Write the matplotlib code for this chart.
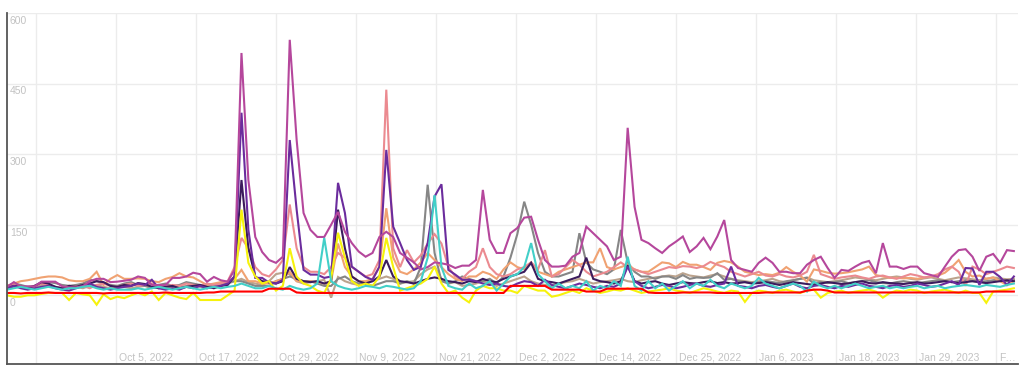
import matplotlib
matplotlib.use("Agg")
import matplotlib.pyplot as plt
import matplotlib.transforms as mtransforms
import pandas as pd

# daily values, Sep 19 2022 .. Feb 12 2023 (147 days)
start = "2022-09-19"

magenta = [
    18, 28, 19, 19, 19, 29, 29, 29, 19, 17,
    17, 19, 30, 35, 35, 28, 29, 31, 33, 40,
    37, 22, 22, 22, 37, 37, 40, 48, 45, 29,
    39, 32, 29, 54, 515, 245, 124, 92, 75, 69,
    82, 543, 330, 175, 139, 124, 124, 150, 177, 135,
    111, 93, 82, 90, 124, 135, 124, 90, 80, 70,
    55, 60, 70, 68, 65, 58, 63, 63, 75, 224,
    118, 90, 90, 132, 143, 165, 167, 118, 75, 61,
    61, 63, 82, 90, 146, 132, 118, 104, 75, 82,
    356, 188, 118, 111, 100, 90, 104, 114, 125, 92,
    104, 122, 98, 125, 160, 75, 58, 54, 50, 69,
    80, 69, 50, 50, 47, 47, 65, 75, 82, 58,
    37, 54, 52, 61, 69, 73, 47, 111, 61, 61,
    56, 61, 61, 47, 43, 39, 61, 82, 96, 98,
    82, 52, 82, 88, 69, 96, 94,
]
purple = [
    15, 20, 15, 12, 15, 18, 20, 15, 12, 10,
    15, 20, 25, 18, 15, 12, 15, 18, 20, 25,
    22, 33, 15, 12, 15, 12, 18, 15, 20, 15,
    18, 20, 25, 40, 388, 139, 37, 37, 27, 25,
    33, 330, 182, 54, 44, 44, 37, 40, 239, 175,
    61, 50, 39, 33, 61, 309, 146, 111, 75, 54,
    61, 111, 210, 236, 54, 44, 33, 33, 30, 25,
    22, 25, 20, 18, 25, 30, 28, 20, 33, 22,
    18, 15, 20, 25, 22, 18, 15, 20, 18, 25,
    61, 30, 20, 15, 18, 22, 20, 15, 18, 22,
    25, 20, 18, 22, 25, 61, 20, 18, 15, 20,
    22, 18, 15, 20, 25, 18, 15, 20, 22, 18,
    15, 20, 18, 22, 25, 20, 18, 15, 20, 22,
    18, 20, 25, 22, 18, 20, 25, 30, 22, 58,
    57, 22, 50, 50, 39, 22, 40,
]
indigo = [
    15, 20, 18, 15, 20, 28, 25, 18, 15, 20,
    18, 22, 25, 30, 28, 20, 18, 22, 20, 26,
    24, 18, 15, 18, 20, 15, 18, 20, 22, 18,
    15, 20, 22, 40, 245, 100, 40, 30, 28, 25,
    30, 60, 35, 30, 28, 30, 25, 30, 182, 100,
    40, 30, 25, 30, 40, 75, 40, 30, 28, 25,
    30, 35, 38, 35, 30, 28, 25, 30, 28, 35,
    30, 28, 35, 40, 45, 50, 69, 35, 30, 28,
    25, 30, 35, 40, 80, 35, 30, 28, 25, 30,
    64, 30, 25, 28, 30, 25, 22, 25, 28, 26,
    25, 28, 30, 26, 28, 25, 26, 28, 25, 26,
    28, 25, 22, 25, 28, 26, 24, 22, 25, 28,
    26, 24, 25, 28, 30, 26, 25, 28, 26, 25,
    24, 26, 28, 25, 26, 28, 30, 28, 26, 28,
    30, 28, 26, 28, 30, 32, 30,
]
salmon = [
    20, 22, 18, 15, 20, 25, 22, 18, 15, 20,
    18, 20, 15, 22, 25, 20, 18, 22, 25, 20,
    22, 25, 20, 18, 22, 20, 25, 22, 20, 25,
    22, 25, 30, 60, 122, 100, 60, 45, 40, 55,
    75, 193, 100, 60, 50, 50, 45, 60, 90, 80,
    60, 50, 40, 45, 75, 437, 100, 60, 96, 70,
    85, 110, 130, 110, 60, 40, 35, 50, 60, 100,
    60, 45, 40, 45, 55, 60, 70, 55, 96, 40,
    45, 60, 75, 65, 50, 40, 45, 50, 60, 70,
    60, 55, 50, 45, 50, 55, 60, 58, 62, 61,
    58, 62, 71, 65, 60, 50, 45, 40, 45, 50,
    42, 40, 45, 40, 38, 42, 50, 86, 45, 40,
    35, 38, 40, 42, 38, 35, 40, 42, 38, 35,
    40, 45, 42, 38, 40, 45, 55, 61, 50, 20,
    61, 55, 45, 50, 55, 61, 58,
]
orange = [
    20, 25, 30, 32, 35, 38, 40, 40, 38, 32,
    30, 30, 35, 50, 22, 35, 43, 35, 35, 36,
    35, 30, 28, 35, 39, 47, 40, 38, 30, 22,
    25, 28, 29, 35, 54, 30, 30, 25, 25, 30,
    35, 50, 30, 28, 30, 28, 25, 30, 110, 60,
    40, 30, 30, 35, 60, 185, 80, 50, 45, 55,
    70, 90, 75, 60, 45, 35, 30, 40, 40, 50,
    45, 35, 55, 70, 60, 55, 70, 50, 45, 40,
    50, 55, 60, 65, 70, 70, 100, 60, 55, 60,
    65, 55, 50, 50, 60, 70, 68, 60, 71, 65,
    65, 60, 54, 69, 73, 70, 61, 50, 47, 43,
    45, 43, 48, 60, 50, 42, 29, 55, 52, 48,
    46, 47, 49, 52, 55, 61, 43, 40, 37, 37,
    36, 37, 35, 38, 40, 42, 48, 60, 75, 50,
    40, 42, 35, 38, 30, 22, 30,
]
yellow = [
    0, -3, -3, 0, 0, 3, 5, 5, 5, -10,
    5, 2, 0, -20, 2, -8, -3, -6, 0, 5,
    0, 8, -10, 5, 0, -5, -8, 5, -10, -10,
    -10, -10, 0, 10, 182, 69, 40, 25, 30, 10,
    20, 100, 40, 25, 20, 10, 5, 35, 133, 80,
    30, 20, 25, 20, 40, 122, 60, 10, 15, 20,
    25, 35, 61, 25, 5, 10, -5, -15, 10, 20,
    15, 15, 10, 10, 5, 20, 15, 10, 10, -3,
    0, 5, 10, 5, 15, 10, 5, 8, 12, 10,
    15, 10, 5, 8, 10, 12, 15, 10, 8, 5,
    10, 15, 12, 8, 5, 10, 8, -14, 5, 10,
    8, 5, 10, 12, 8, 5, 10, 12, -5, 5,
    8, 10, 5, 8, 10, 12, 8, -5, 5, 10,
    8, 12, 10, 5, 8, 10, 12, 8, 5, 10,
    5, 5, -16, 8, 10, 12, 15,
]
gray = [
    20, 25, 22, 18, 20, 25, 28, 26, 22, 20,
    22, 25, 33, 30, 25, 22, 20, 25, 28, 22,
    20, 18, 22, 25, 20, 22, 28, 25, 22, 20,
    22, 25, 28, 30, 30, 25, 20, 20, 20, 30,
    35, 40, 35, 30, 30, 25, 20, 20, 35, 40,
    30, 25, 25, 20, 25, 30, 30, 25, 30, 25,
    60, 235, 90, 30, 25, 30, 40, 35, 30, 30,
    35, 25, 40, 80, 130, 199, 150, 90, 50, 40,
    40, 45, 50, 132, 70, 55, 50, 45, 55, 139,
    70, 50, 40, 40, 35, 40, 40, 35, 43, 35,
    38, 37, 38, 47, 33, 35, 30, 28, 26, 28,
    30, 28, 26, 30, 32, 35, 37, 25, 28, 26,
    28, 30, 26, 28, 30, 32, 28, 26, 25, 28,
    30, 28, 26, 28, 30, 32, 30, 28, 30, 32,
    30, 28, 30, 32, 34, 30, 32,
]
tan = [
    15, 18, 20, 15, 18, 22, 20, 18, 15, 20,
    18, 15, 20, 22, 18, 15, 20, 18, 15, 18,
    20, 15, 18, 20, 15, 18, 20, 22, 18, 15,
    18, 20, 25, 30, 35, 28, 25, 22, 30, 45,
    48, 45, 30, 25, 28, 30, 33, -5, 39, 30,
    25, 22, 28, 30, 35, 40, 35, 25, 28, 30,
    45, 55, 61, 35, 25, 28, 20, 22, 25, 30,
    25, 20, 25, 30, 35, 40, 30, 25, 22, 20,
    25, 28, 30, 35, 30, 25, 28, 30, 32, 35,
    30, 28, 32, 35, 38, 40, 42, 40, 47, 42,
    40, 38, 42, 45, 40, 35, 32, 30, 28, 30,
    32, 35, 30, 28, 32, 35, 38, 32, 30, 28,
    30, 32, 35, 38, 36, 34, 32, 35, 38, 40,
    38, 35, 33, 36, 38, 35, 32, 35, 38, 36,
    34, 32, 35, 38, 36, 34, 35,
]
turquoise = [
    12, 15, 18, 15, 12, 15, 18, 15, 12, 15,
    15, 18, 20, 15, 12, 15, 12, 12, 12, 15,
    12, 15, 18, 15, 12, 15, 18, 15, 12, 15,
    18, 15, 18, 20, 25, 20, 15, 15, 20, 15,
    12, 20, 15, 12, 15, 25, 122, 30, 20, 15,
    12, 15, 20, 18, 15, 20, 18, 15, 12, 15,
    30, 80, 213, 60, 20, 15, 12, 25, 15, 20,
    30, 10, 25, 40, 45, 60, 111, 45, 30, 15,
    25, 15, 20, 15, 30, 10, 20, 15, 30, 20,
    82, 20, 10, 30, 15, 25, 10, 20, 30, 15,
    25, 20, 33, 20, 15, 25, 20, 15, 20, 37,
    25, 20, 15, 20, 25, 20, 8, 29, 20, 15,
    20, 15, 20, 25, 20, 15, 18, 20, 15, 18,
    15, 18, 20, 15, 18, 20, 15, 18, 20, 22,
    20, 18, 22, 20, 18, 22, 25,
]
red = [
    5, 5, 4, 5, 5, 5, 6, 5, 5, 5,
    5, 5, 5, 5, 4, 5, 5, 5, 5, 5,
    5, 5, 5, 6, 5, 5, 5, 5, 5, 6,
    6, 8, 8, 8, 8, 8, 8, 8, 14, 14,
    14, 14, 6, 5, 5, 5, 5, 5, 5, 5,
    5, 5, 5, 5, 5, 5, 5, 5, 5, 5,
    5, 5, 5, 5, 5, 5, 5, 5, 5, 5,
    5, 5, 5, 20, 20, 20, 20, 20, 20, 12,
    12, 12, 12, 12, 8, 8, 8, 14, 14, 14,
    14, 14, 14, 6, 5, 5, 5, 5, 6, 6,
    6, 6, 6, 5, 5, 5, 5, 5, 5, 5,
    6, 6, 6, 6, 6, 6, 10, 12, 12, 10,
    6, 6, 6, 6, 6, 6, 6, 6, 6, 6,
    6, 6, 6, 6, 6, 6, 6, 6, 6, 6,
    6, 6, 8, 8, 8, 8, 8,
]

tick_labels = ["", "Oct 5, 2022", "Oct 17, 2022", "Oct 29, 2022", "Nov 9, 2022",
               "Nov 21, 2022", "Dec 2, 2022", "Dec 14, 2022", "Dec 25, 2022",
               "Jan 6, 2023", "Jan 18, 2023", "Jan 29, 2023", "F\u2026"]
y_ticks = [0, 150, 300, 450, 600]

series = [
    (tan, "#bca38d"),
    (gray, "#868686"),
    (orange, "#f0a272"),
    (salmon, "#eb8a90"),
    (indigo, "#3b1b5c"),
    (purple, "#6b2c9d"),
    (magenta, "#b5479c"),
    (yellow, "#f6f20c"),
    (turquoise, "#42cfc8"),
    (red, "#ff0000"),
]

dates = pd.date_range(start, periods=len(magenta), freq="D")
t0 = dates[0]

plt.rcParams["font.family"] = ["Liberation Sans", "DejaVu Sans"]
fig = plt.figure(figsize=(10.24, 3.78), dpi=100)
ax = fig.add_axes([7 / 1024, 14 / 378, 1011 / 1024, 351 / 378])

for vals, col in series:
    ax.plot(dates, vals, color=col, lw=1.5, solid_joinstyle="miter")

ax.set_xlim(t0, t0 + pd.Timedelta(days=146.6))
ax.set_ylim(-146, 600)

xt = [t0 + pd.Timedelta(days=4.2 + 11.6 * k) for k in range(len(tick_labels))]
ax.set_xticks(xt)
ax.set_yticks(y_ticks)
ax.set_xticklabels([])
ax.set_yticklabels([])
ax.tick_params(length=0)
ax.grid(True, color="#ececec", lw=1)
ax.set_axisbelow(True)

for s in ["top", "right"]:
    ax.spines[s].set_visible(False)
for s in ["left", "bottom"]:
    ax.spines[s].set_color("#555555")
    ax.spines[s].set_linewidth(1.3)

lab_col = "#c2c2c2"
tr_y = mtransforms.blended_transform_factory(ax.transAxes, ax.transData)
off_y = mtransforms.offset_copy(tr_y, fig=fig, x=2, y=-2, units="points")
for v in y_ticks:
    ax.text(0, v, str(v), transform=off_y, ha="left", va="top",
            fontsize=7.5, color=lab_col)

tr_x = mtransforms.blended_transform_factory(ax.transData, ax.transAxes)
off_x = mtransforms.offset_copy(tr_x, fig=fig, x=2.5, y=1, units="points")
for pos, lab in zip(xt, tick_labels):
    ax.text(pos, 0, lab, transform=off_x, ha="left", va="bottom",
            fontsize=7.5, color=lab_col)

fig.savefig("out.png", dpi=100, facecolor="white")
